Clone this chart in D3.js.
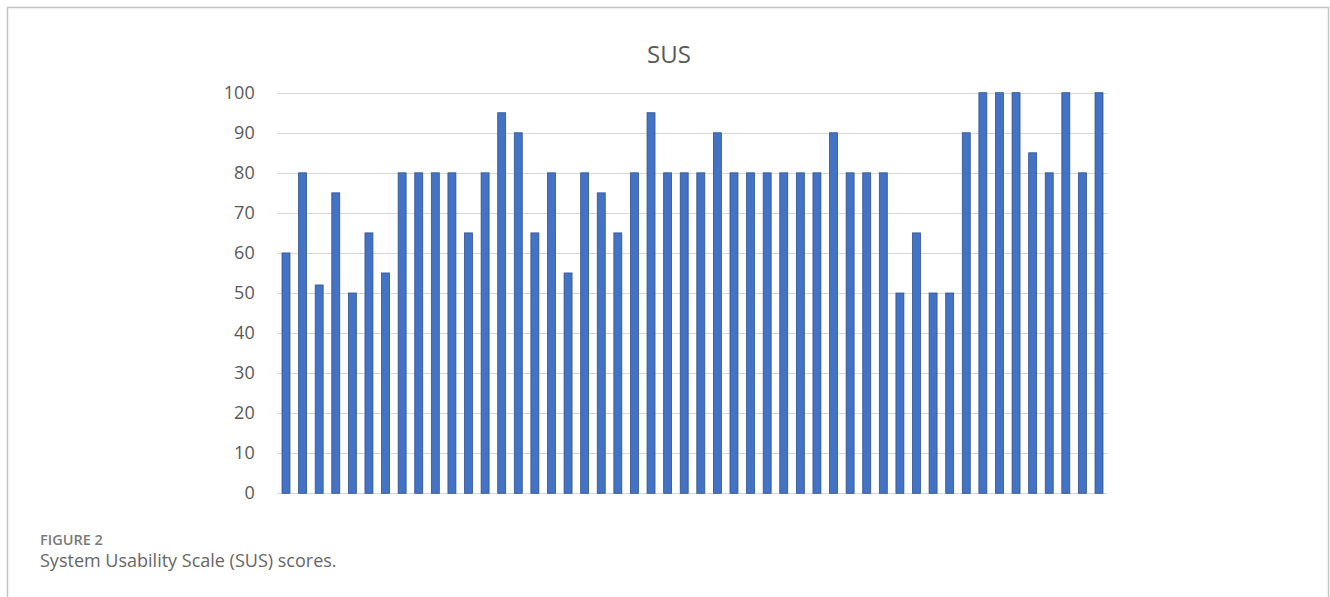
<!DOCTYPE html>
<html>
<head>
<meta charset="utf-8">
<script src="https://cdn.jsdelivr.net/npm/d3@7"></script>
<style>
  html, body { margin: 0; padding: 0; background: #fff; }
  svg { display: block; }
</style>
</head>
<body>
<svg id="chart" width="1330" height="597"></svg>
<script>
// ---- data ----
const title = "SUS";
const participants = d3.range(1, 51);
const susScores = [60, 80, 52, 75, 50, 65, 55, 80, 80, 80,
                   80, 65, 80, 95, 90, 65, 80, 55, 80, 75,
                   65, 80, 95, 80, 80, 80, 90, 80, 80, 80,
                   80, 80, 80, 90, 80, 80, 80, 50, 65, 50,
                   50, 90, 100, 100, 100, 85, 80, 100, 80, 100];
const yTicks = [0, 10, 20, 30, 40, 50, 60, 70, 80, 90, 100];
const figureLabel = "FIGURE 2";
const figureCaption = "System Usability Scale (SUS) scores.";

// ---- drawing ----
const svg = d3.select("#chart");

// outer frame
svg.append("path")
  .attr("d", "M7.5,597 L7.5,7.5 L1328.5,7.5 L1328.5,597")
  .attr("fill", "none")
  .attr("stroke", "#c4c4c4")
  .attr("stroke-width", 1.5);

const plot = { left: 277.7, right: 1107.3, top: 92.7, bottom: 493.3 };

const x = d3.scaleBand()
  .domain(participants)
  .range([plot.left, plot.right])
  .paddingInner(0.52)
  .paddingOuter(0.26);

const y = d3.scaleLinear()
  .domain([0, 100])
  .range([plot.bottom, plot.top]);

// gridlines
svg.append("g")
  .selectAll("line")
  .data(yTicks)
  .join("line")
  .attr("x1", plot.left)
  .attr("x2", plot.right)
  .attr("y1", d => Math.round(y(d)) + 0.5)
  .attr("y2", d => Math.round(y(d)) + 0.5)
  .attr("stroke", "#d9d9d9")
  .attr("stroke-width", 1);

// y axis labels
const yAxis = d3.axisLeft(y).tickValues(yTicks).tickSize(0).tickPadding(0);
const gy = svg.append("g")
  .attr("transform", `translate(${plot.left - 23},0)`)
  .call(yAxis);
gy.select(".domain").remove();
gy.selectAll("text")
  .attr("font-family", "'Open Sans', 'Noto Sans', sans-serif")
  .attr("font-size", 18)
  .attr("fill", "#595959")
  .attr("dy", "0.3em");

// bars
svg.append("g")
  .selectAll("rect")
  .data(susScores)
  .join("rect")
  .attr("x", (d, i) => x(participants[i]))
  .attr("width", x.bandwidth())
  .attr("y", d => y(d))
  .attr("height", d => y(0) - y(d))
  .attr("fill", "#4472C4")
  .attr("stroke", "#2F528F")
  .attr("stroke-width", 0.8);

// title
svg.append("text")
  .attr("x", 669)
  .attr("y", 63)
  .attr("text-anchor", "middle")
  .attr("font-family", "'Open Sans', 'Noto Sans', sans-serif")
  .attr("font-size", 24)
  .attr("fill", "#595959")
  .text(title);

// caption
svg.append("text")
  .attr("x", 40)
  .attr("y", 545)
  .attr("font-family", "'Open Sans', 'Noto Sans', sans-serif")
  .attr("font-size", 14.5)
  .attr("font-weight", 600)
  .attr("fill", "#7a7a7a")
  .text(figureLabel);

svg.append("text")
  .attr("x", 40)
  .attr("y", 567)
  .attr("font-family", "'Open Sans', 'Noto Sans', sans-serif")
  .attr("font-size", 18)
  .attr("fill", "#666666")
  .text(figureCaption);
</script>
</body>
</html>
